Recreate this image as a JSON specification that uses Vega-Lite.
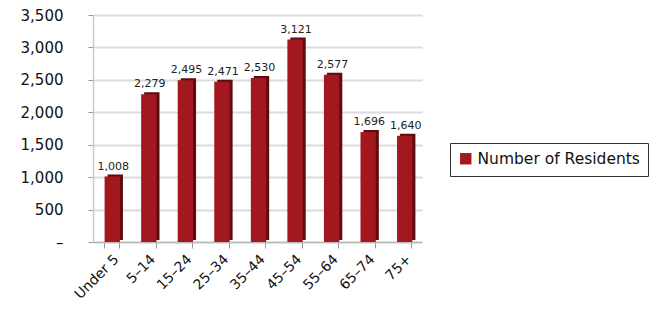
{
  "$schema": "https://vega.github.io/schema/vega-lite/v6.json",
  "width": 329,
  "height": 227,
  "padding": {"left": 20, "top": 8, "right": 5, "bottom": 5},
  "background": "white",
  "config": {
    "view": {"stroke": null},
    "font": "DejaVu Sans"
  },
  "data": {
    "values": [
      {"age": "Under 5", "residents": 1008, "series": "Number of Residents"},
      {"age": "5–14", "residents": 2279, "series": "Number of Residents"},
      {"age": "15–24", "residents": 2495, "series": "Number of Residents"},
      {"age": "25–34", "residents": 2471, "series": "Number of Residents"},
      {"age": "35–44", "residents": 2530, "series": "Number of Residents"},
      {"age": "45–54", "residents": 3121, "series": "Number of Residents"},
      {"age": "55–64", "residents": 2577, "series": "Number of Residents"},
      {"age": "65–74", "residents": 1696, "series": "Number of Residents"},
      {"age": "75+", "residents": 1640, "series": "Number of Residents"}
    ]
  },
  "encoding": {
    "x": {
      "field": "age",
      "type": "nominal",
      "sort": null,
      "scale": {"paddingInner": 0.58, "paddingOuter": 0.29},
      "axis": {
        "title": null,
        "labelAngle": -45,
        "labelFontSize": 14,
        "labelColor": "#111",
        "domainColor": "#bbb",
        "domainWidth": 1.5,
        "tickColor": "#999",
        "tickSize": 6,
        "tickBand": "extent",
        "labelPadding": 4
      }
    },
    "y": {
      "field": "residents",
      "type": "quantitative",
      "scale": {"domain": [0, 3500]},
      "axis": {
        "title": null,
        "values": [0, 500, 1000, 1500, 2000, 2500, 3000, 3500],
        "labelExpr": "datum.value === 0 ? '–' : format(datum.value, ',')",
        "labelFontSize": 15,
        "labelColor": "#111",
        "labelPadding": 25,
        "tickSize": 5,
        "tickColor": "#999",
        "domainColor": "#ccc",
        "domainWidth": 1.5,
        "gridColor": "#dcdcdc",
        "gridWidth": 2
      }
    }
  },
  "layer": [
    {
      "mark": {"type": "bar", "color": "#5e0c10", "xOffset": 4, "yOffset": -2},
      "encoding": {}
    },
    {
      "mark": {"type": "bar", "xOffset": 1},
      "encoding": {
        "color": {
          "field": "series",
          "type": "nominal",
          "scale": {"range": ["#a3171f"]},
          "legend": {
            "title": null,
            "orient": "none",
            "legendX": 357,
            "legendY": 128,
            "symbolType": "square",
            "symbolSize": 130,
            "symbolStrokeWidth": 0,
            "labelFontSize": 15.5,
            "labelLimit": 400,
            "labelColor": "#111",
            "strokeColor": "#333",
            "fillColor": "white",
            "padding": 8
          }
        }
      }
    },
    {
      "mark": {"type": "text", "dy": -10, "dx": 2, "fontSize": 11, "color": "#222"},
      "encoding": {
        "text": {"field": "residents", "type": "quantitative", "format": ","}
      }
    }
  ]
}
